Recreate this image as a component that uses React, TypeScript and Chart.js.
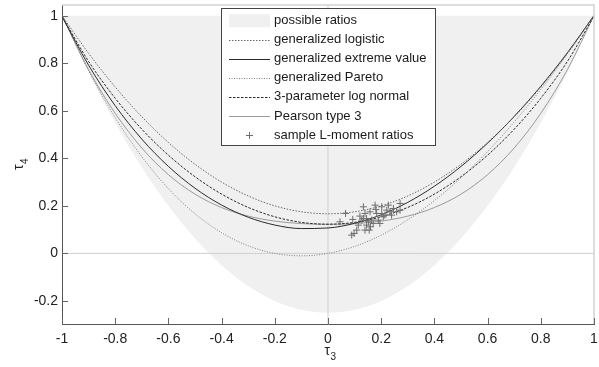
import { useEffect, useRef } from "react";
import { Chart, registerables } from "chart.js";

Chart.register(...registerables);

// τ3 positions at which the curves were read
const tau3Grid = [-1, -0.9, -0.8, -0.7, -0.6, -0.5, -0.4, -0.3, -0.2, -0.1, 0, 0.1, 0.2, 0.3, 0.4, 0.5, 0.6, 0.7, 0.8, 0.9, 1];
// lower edge of the region of possible ratios (upper edge is τ4 = 1)
const possibleLower = [1, 0.7625, 0.55, 0.3625, 0.2, 0.0625, -0.05, -0.1375, -0.2, -0.2375, -0.25, -0.2375, -0.2, -0.1375, -0.05, 0.0625, 0.2, 0.3625, 0.55, 0.7625, 1];
const possibleUpper = 1;
const gloValues = [1, 0.8417, 0.7, 0.575, 0.4667, 0.375, 0.3, 0.2417, 0.2, 0.175, 0.1667, 0.175, 0.2, 0.2417, 0.3, 0.375, 0.4667, 0.575, 0.7, 0.8417, 1];
const gevValues = [0.9966, 0.7916, 0.6214, 0.4808, 0.3661, 0.2742, 0.2034, 0.1521, 0.1193, 0.1045, 0.107, 0.1265, 0.1626, 0.2148, 0.2827, 0.3658, 0.4638, 0.5762, 0.7029, 0.8443, 1.0008];
const gpaValues = [1, 0.7683, 0.5714, 0.407, 0.2727, 0.1667, 0.087, 0.0319, 0, -0.0102, 0, 0.0294, 0.0769, 0.1415, 0.2222, 0.3182, 0.4286, 0.5526, 0.6897, 0.839, 1];
const ln3Values = [0.9981, 0.8077, 0.6526, 0.5226, 0.4133, 0.3226, 0.2495, 0.1935, 0.154, 0.1306, 0.1228, 0.1306, 0.154, 0.1935, 0.2495, 0.3226, 0.4133, 0.5226, 0.6526, 0.8077, 0.9981];
const pe3Values = [1.0006, 0.7729, 0.5894, 0.4435, 0.3314, 0.2493, 0.1929, 0.1569, 0.1359, 0.1255, 0.1224, 0.1255, 0.1359, 0.1569, 0.1929, 0.2493, 0.3314, 0.4435, 0.5894, 0.7729, 1.0006];

// sample L-moment ratios
const sampleTau3 = [0.066, 0.045, 0.093, 0.098, 0.108, 0.089, 0.133, 0.139, 0.145, 0.152, 0.158, 0.177, 0.17, 0.183, 0.202, 0.208, 0.227, 0.233, 0.246, 0.271, 0.271, 0.127, 0.114, 0.139, 0.155, 0.195, 0.189, 0.16, 0.202, 0.221, 0.133, 0.145, 0.214, 0.239, 0.164, 0.12, 0.258, 0.18];
const sampleTau4 = [0.168, 0.133, 0.143, 0.084, 0.098, 0.077, 0.196, 0.168, 0.147, 0.133, 0.175, 0.203, 0.126, 0.168, 0.196, 0.154, 0.203, 0.175, 0.189, 0.21, 0.182, 0.14, 0.119, 0.098, 0.098, 0.126, 0.14, 0.112, 0.168, 0.182, 0.147, 0.119, 0.161, 0.161, 0.14, 0.157, 0.175, 0.185];

const xTicks = [-1, -0.8, -0.6, -0.4, -0.2, 0, 0.2, 0.4, 0.6, 0.8, 1];
const yTicks = [-0.2, 0, 0.2, 0.4, 0.6, 0.8, 1];
const xRange = [-1, 1];
const yRange = [-0.297, 1.045];

const legendLabels = [
  "possible ratios",
  "generalized logistic",
  "generalized extreme value",
  "generalized Pareto",
  "3-parameter log normal",
  "Pearson type 3",
  "sample L-moment ratios",
];

const FONT = '"Liberation Sans", Arial, sans-serif';

const pts = (ys: number[]) => tau3Grid.map((x, i) => ({ x, y: ys[i] }));

const decorPlugin = {
  id: "decor",
  afterDraw(chart: any) {
    const { ctx, chartArea: ca, scales } = chart;
    const xs = scales.x;
    const ys = scales.y;
    ctx.save();

    // light frame top / right
    ctx.strokeStyle = "#d2d2d2";
    ctx.lineWidth = 1.5;
    ctx.beginPath();
    ctx.moveTo(ca.left, ca.top);
    ctx.lineTo(ca.right, ca.top);
    ctx.lineTo(ca.right, ca.bottom);
    ctx.stroke();

    // inward tick marks
    ctx.strokeStyle = "#666";
    ctx.lineWidth = 1;
    xTicks.forEach((v) => {
      const px = Math.round(xs.getPixelForValue(v)) + 0.5;
      ctx.beginPath();
      ctx.moveTo(px, ca.bottom);
      ctx.lineTo(px, ca.bottom - 6);
      ctx.stroke();
    });
    yTicks.forEach((v) => {
      const py = Math.round(ys.getPixelForValue(v)) + 0.5;
      ctx.beginPath();
      ctx.moveTo(ca.left, py);
      ctx.lineTo(ca.left + 6, py);
      ctx.stroke();
    });

    // axis titles τ3 / τ4
    const drawSub = (main: string, sub: string) => {
      ctx.font = "14px " + FONT;
      const w1 = ctx.measureText(main).width;
      ctx.font = "10px " + FONT;
      const w2 = ctx.measureText(sub).width;
      const start = -(w1 + w2) / 2;
      ctx.fillStyle = "#222";
      ctx.textBaseline = "middle";
      ctx.textAlign = "left";
      ctx.font = "14px " + FONT;
      ctx.fillText(main, start, 0);
      ctx.font = "10px " + FONT;
      ctx.fillText(sub, start + w1 + 0.5, 6);
    };
    ctx.save();
    ctx.translate((ca.left + ca.right) / 2 + 2, 351);
    drawSub("τ", "3");
    ctx.restore();
    ctx.save();
    ctx.translate(19, (ca.top + ca.bottom) / 2);
    ctx.rotate(-Math.PI / 2);
    drawSub("τ", "4");
    ctx.restore();

    // legend
    const bx = 221.5, by = 8.5, bw = 214, bh = 137;
    ctx.fillStyle = "#fff";
    ctx.fillRect(bx, by, bw, bh);
    ctx.strokeStyle = "#444";
    ctx.lineWidth = 1;
    ctx.strokeRect(bx, by, bw, bh);
    const rowY0 = 20.7;
    const rowStep = 19.05;
    const sx0 = 229, sx1 = 270;
    const ds = chart.data.datasets;
    legendLabels.forEach((label, i) => {
      const y = rowY0 + i * rowStep;
      const d = ds.find((dd: any) => dd.label === label);
      if (i === 0) {
        ctx.fillStyle = d.backgroundColor;
        ctx.fillRect(sx0, y - 6.5, sx1 - sx0, 13);
      } else if (d && d.type === "scatter") {
        ctx.strokeStyle = d.borderColor;
        ctx.lineWidth = 1;
        const cx = 249.5, cy = Math.round(y) + 0.5, r = 3.5;
        ctx.beginPath();
        ctx.moveTo(cx - r, cy);
        ctx.lineTo(cx + r, cy);
        ctx.moveTo(cx, cy - r);
        ctx.lineTo(cx, cy + r);
        ctx.stroke();
      } else if (d) {
        ctx.strokeStyle = d.borderColor;
        ctx.lineWidth = d.borderWidth;
        ctx.setLineDash(d.borderDash || []);
        const ly = Math.round(y) + 0.5;
        ctx.beginPath();
        ctx.moveTo(sx0, ly);
        ctx.lineTo(sx1, ly);
        ctx.stroke();
        ctx.setLineDash([]);
      }
      ctx.fillStyle = "#1a1a1a";
      ctx.font = "13px " + FONT;
      ctx.textAlign = "left";
      ctx.textBaseline = "middle";
      ctx.fillText(label, 274, y);
    });

    ctx.restore();
  },
};

export default function App() {
  const ref = useRef<HTMLCanvasElement>(null);
  useEffect(() => {
    const canvas = ref.current!;
    const lineBase = {
      pointRadius: 0,
      fill: false,
      cubicInterpolationMode: "monotone" as const,
      borderWidth: 1,
    };
    const chart = new Chart(canvas, {
      type: "line",
      data: {
        datasets: [
          {
            label: legendLabels[0],
            data: pts(possibleLower),
            borderWidth: 0,
            borderColor: "rgba(0,0,0,0)",
            backgroundColor: "#f0f0f0",
            pointRadius: 0,
            cubicInterpolationMode: "monotone",
            fill: { value: possibleUpper },
            order: 10,
          } as any,
          {
            label: "zero-h",
            data: [{ x: xRange[0], y: 0 }, { x: xRange[1], y: 0 }],
            borderColor: "#cfcfcf",
            borderWidth: 1,
            pointRadius: 0,
            order: 9,
          },
          {
            label: "zero-v",
            data: [{ x: 0, y: yRange[0] }, { x: 0, y: yRange[1] }],
            borderColor: "#cfcfcf",
            borderWidth: 1,
            pointRadius: 0,
            order: 9,
          },
          { ...lineBase, label: legendLabels[1], data: pts(gloValues), borderColor: "#6a6a6a", borderDash: [1.5, 1.5], order: 2 },
          { ...lineBase, label: legendLabels[2], data: pts(gevValues), borderColor: "#2a2a2a", order: 2 },
          { ...lineBase, label: legendLabels[3], data: pts(gpaValues), borderColor: "#808080", borderDash: [1, 1.5], order: 2 },
          { ...lineBase, label: legendLabels[4], data: pts(ln3Values), borderColor: "#2a2a2a", borderDash: [2.5, 1.5], order: 2 },
          { ...lineBase, label: legendLabels[5], data: pts(pe3Values), borderColor: "#9a9a9a", order: 2 },
          {
            type: "scatter",
            label: legendLabels[6],
            data: sampleTau3.map((x, i) => ({ x, y: sampleTau4[i] })),
            pointStyle: "cross",
            pointRadius: 3.5,
            borderColor: "#6e6e6e",
            backgroundColor: "#6e6e6e",
            borderWidth: 1,
            showLine: false,
            order: 0,
          } as any,
        ],
      },
      options: {
        responsive: false,
        animation: false,
        events: [],
        layout: { padding: { left: 0, top: 5, right: 5, bottom: 0 } },
        plugins: {
          legend: { display: false },
          tooltip: { enabled: false },
          title: { display: false },
        },
        scales: {
          x: {
            type: "linear",
            position: "bottom",
            min: xRange[0],
            max: xRange[1],
            grid: { display: false, drawTicks: false },
            border: { display: true, color: "#555", width: 1 },
            afterBuildTicks: (s: any) => {
              s.ticks = xTicks.map((v) => ({ value: v }));
            },
            afterFit: (s: any) => {
              s.height = 43;
              s.paddingLeft = 0;
              s.paddingRight = 0;
            },
            ticks: {
              padding: 7,
              maxRotation: 0,
              autoSkip: false,
              color: "#222",
              font: { family: FONT, size: 14 },
              callback: (v: any) => String(Math.round(Number(v) * 10) / 10),
            },
          },
          y: {
            type: "linear",
            position: "left",
            min: yRange[0],
            max: yRange[1],
            grid: { display: false, drawTicks: false },
            border: { display: true, color: "#555", width: 1 },
            afterBuildTicks: (s: any) => {
              s.ticks = yTicks.map((v) => ({ value: v }));
            },
            afterFit: (s: any) => {
              s.width = 62;
              s.paddingTop = 0;
              s.paddingBottom = 0;
            },
            ticks: {
              padding: 4,
              autoSkip: false,
              color: "#222",
              font: { family: FONT, size: 14 },
              callback: (v: any) => String(Math.round(Number(v) * 10) / 10),
            },
          },
        },
      },
      plugins: [decorPlugin],
    });
    return () => chart.destroy();
  }, []);
  return (
    <div style={{ position: "absolute", left: 0, top: 0, width: 599, height: 367, background: "#fff" }}>
      <canvas ref={ref} width={599} height={367} style={{ display: "block", width: 599, height: 367 }} />
    </div>
  );
}
